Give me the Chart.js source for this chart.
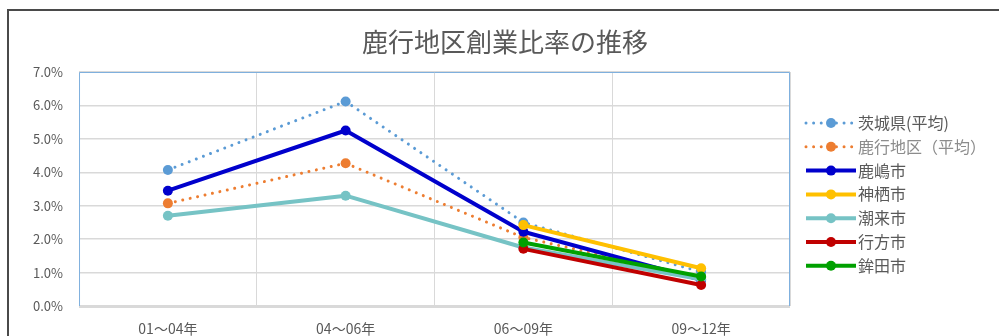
<!DOCTYPE html>
<html lang="ja">
<head>
<meta charset="utf-8">
<script src="https://cdn.jsdelivr.net/npm/chart.js@4/dist/chart.umd.min.js"></script>
<style>
  html, body { margin: 0; padding: 0; background: #fff; }
  #wrap { position: relative; width: 999px; height: 336px; overflow: hidden; }
  #frame { position: absolute; left: 7px; top: 9px; width: 1100px; height: 400px;
           border-top: 2px solid #4a4a4a; border-left: 2px solid #4a4a4a; }
  canvas { position: absolute; left: 0; top: 0; }
</style>
</head>
<body>
<div id="wrap">
  <div id="frame"></div>
  <canvas id="chart" width="999" height="336"></canvas>
</div>
<script>
// 期間（横軸）
const periods = ['01～04年', '04～06年', '06～09年', '09～12年'];

// 各系列の創業比率（%）
const ibaraki  = [4.07, 6.12, 2.50, 1.02];  // 茨城県（平均）
const rokkou   = [3.07, 4.27, 2.05, 0.85];  // 鹿行地区（平均）
const kashima  = [3.45, 5.25, 2.22, 0.78];  // 鹿嶋市
const kamisu   = [null, null, 2.42, 1.13];  // 神栖市
const itako    = [2.70, 3.30, 1.75, 0.80];  // 潮来市
const namegata = [null, null, 1.71, 0.63];  // 行方市
const hokota   = [null, null, 1.90, 0.88];  // 鉾田市

const seriesNames = ['茨城県(平均)', '鹿行地区（平均）', '鹿嶋市', '神栖市', '潮来市', '行方市', '鉾田市'];
const seriesData = [ibaraki, rokkou, kashima, kamisu, itako, namegata, hokota];
const seriesColors = ['#5b9bd5', '#ed7d31', '#0000cc', '#ffc000', '#76c3c5', '#c00000', '#00a000'];
const dottedSeries = [true, true, false, false, false, false, false];

const yTicksMax = 7;   // 0.0% ～ 7.0%
const yStep = 1;

const TITLE = '鹿行地区創業比率の推移';
const FONT = "'Noto Sans CJK JP', 'Noto Sans', sans-serif";
const TEXT = '#595959';

const datasets = seriesData.map((vals, i) => ({
  label: seriesNames[i],
  data: vals,
  borderColor: seriesColors[i],
  backgroundColor: seriesColors[i],
  pointBackgroundColor: seriesColors[i],
  pointBorderColor: seriesColors[i],
  borderWidth: dottedSeries[i] ? 3 : 4,
  borderDash: dottedSeries[i] ? [0.01, 7.6] : [],
  borderCapStyle: dottedSeries[i] ? 'round' : 'butt',
  borderJoinStyle: 'round',
  pointRadius: 5,
  pointBorderWidth: 0,
  tension: 0,
  spanGaps: false,
  order: seriesData.length - i // Excelと同じく後の系列を上に
}));

// プロット領域の枠（青）
const plotFrame = {
  id: 'plotFrame',
  beforeDatasetsDraw(chart) {
    const { ctx, chartArea: a } = chart;
    ctx.save();
    ctx.strokeStyle = '#7fb0de';
    ctx.lineWidth = 1;
    ctx.beginPath();
    ctx.moveTo(a.left + 0.5, a.bottom);
    ctx.lineTo(a.left + 0.5, a.top + 0.5);
    ctx.lineTo(a.right - 0.5, a.top + 0.5);
    ctx.lineTo(a.right - 0.5, a.bottom);
    ctx.stroke();
    ctx.strokeStyle = '#d9d9d9';
    ctx.lineWidth = 2;
    ctx.beginPath();
    ctx.moveTo(a.left, a.bottom + 1);
    ctx.lineTo(a.right, a.bottom + 1);
    ctx.stroke();
    ctx.restore();
  }
};

// タイトルと凡例（線＋マーカー）
const titleAndLegend = {
  id: 'titleAndLegend',
  afterDraw(chart) {
    const { ctx } = chart;
    ctx.save();
    ctx.fillStyle = TEXT;
    ctx.font = '26px ' + FONT;
    ctx.textAlign = 'center';
    ctx.textBaseline = 'middle';
    ctx.fillText(TITLE, 505, 42);

    const x0 = 806, x1 = 856, top = 123, gap = 23.8;
    chart.data.datasets.forEach((ds, i) => {
      const y = top + i * gap;
      ctx.strokeStyle = ds.borderColor;
      ctx.lineWidth = ds.borderWidth;
      ctx.lineCap = ds.borderCapStyle;
      ctx.setLineDash(ds.borderDash);
      ctx.beginPath();
      ctx.moveTo(x0, y);
      ctx.lineTo(x1, y);
      ctx.stroke();
      ctx.setLineDash([]);
      ctx.fillStyle = ds.pointBackgroundColor;
      ctx.beginPath();
      ctx.arc((x0 + x1) / 2, y, 5, 0, Math.PI * 2);
      ctx.fill();
      ctx.fillStyle = i === 1 ? '#8c8c8c' : TEXT;
      ctx.font = '16px ' + FONT;
      ctx.textAlign = 'left';
      ctx.fillText(ds.label, x1 + 2, y);
    });
    ctx.restore();
  }
};

new Chart(document.getElementById('chart'), {
  type: 'line',
  data: { labels: periods, datasets: datasets },
  plugins: [plotFrame, titleAndLegend],
  options: {
    responsive: false,
    animation: false,
    layout: { padding: { left: 17, right: 209, top: 72, bottom: -14.8 } },
    plugins: {
      legend: { display: false },
      tooltip: { enabled: false },
      title: { display: false }
    },
    scales: {
      x: {
        offset: true,
        grid: { color: '#d9d9d9', lineWidth: 1, offset: true, drawTicks: false },
        border: { display: false },
        ticks: { color: TEXT, font: { family: FONT, size: 14 }, padding: 14 }
      },
      y: {
        min: 0,
        max: yTicksMax,
        grid: { color: '#d9d9d9', lineWidth: 1.5, drawTicks: false },
        border: { display: false },
        ticks: {
          stepSize: yStep,
          color: TEXT,
          font: { family: FONT, size: 13 },
          padding: 16,
          callback: v => v.toFixed(1) + '%'
        }
      }
    }
  }
});
</script>
</body>
</html>
